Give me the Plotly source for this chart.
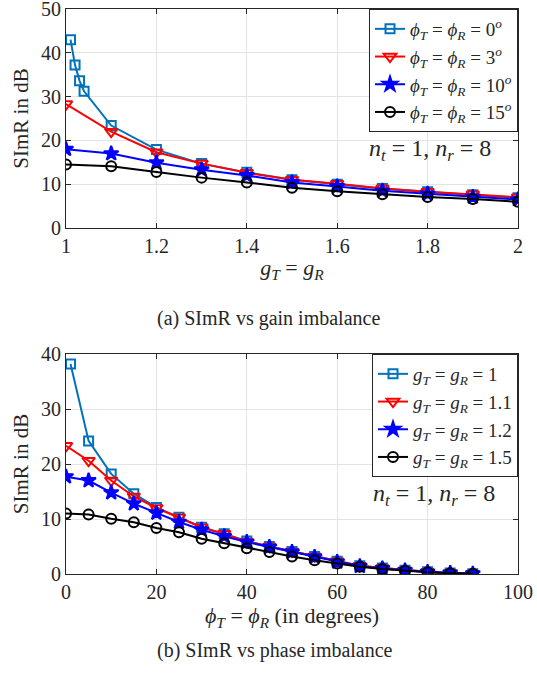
import plotly.graph_objects as go

# ---------- data: top panel (gain imbalance) ----------
g_sq = [1.01, 1.02, 1.03, 1.04, 1.1, 1.2, 1.3, 1.4, 1.5, 1.6, 1.7, 1.8, 1.9, 2.0]
simr_phi0 = [43.0, 37.2, 33.6, 31.2, 23.4, 17.9, 14.7, 12.7, 11.0, 10.0, 9.0, 8.3, 7.6, 6.9]
g_vals = [1.0, 1.1, 1.2, 1.3, 1.4, 1.5, 1.6, 1.7, 1.8, 1.9, 2.0]
simr_phi3 = [28.3, 22.0, 17.3, 14.7, 12.6, 11.0, 10.1, 9.0, 8.3, 7.7, 7.0]
simr_phi10 = [18.0, 17.0, 14.9, 13.3, 12.0, 10.4, 9.5, 8.5, 7.8, 7.1, 6.5]
simr_phi15 = [14.5, 14.1, 12.8, 11.5, 10.4, 9.2, 8.4, 7.7, 7.1, 6.6, 6.0]

# ---------- data: bottom panel (phase imbalance) ----------
phi_sq = [1, 5, 10, 15, 20, 25, 30, 35, 40, 45, 50, 55, 60, 65, 70, 75, 80, 85, 90]
phi_vals = [0, 5, 10, 15, 20, 25, 30, 35, 40, 45, 50, 55, 60, 65, 70, 75, 80, 85, 90]
simr_g1 = [38.2, 24.2, 18.2, 14.6, 12.1, 10.3, 8.5, 7.3, 6.0, 5.0, 4.1, 3.2, 2.3, 1.5, 1.1, 0.7, 0.4, 0.2, 0.05]
simr_g11 = [23.3, 20.6, 17.0, 14.1, 12.0, 10.3, 8.5, 7.3, 5.9, 5.0, 4.1, 3.2, 2.3, 1.5, 1.1, 0.7, 0.4, 0.2, 0.05]
simr_g12 = [17.7, 17.0, 14.8, 12.8, 11.1, 9.45, 8.05, 6.85, 5.8, 4.9, 4.0, 3.1, 2.2, 1.4, 1.0, 0.65, 0.35, 0.2, 0.05]
simr_g15 = [11.0, 10.8, 10.05, 9.4, 8.35, 7.6, 6.4, 5.6, 4.7, 4.0, 3.2, 2.5, 1.9, 1.3, 0.9, 0.6, 0.3, 0.15, 0.05]

top_names = ["<i>ϕ<sub>T</sub></i> = <i>ϕ<sub>R</sub></i> = 0<sup><i>o</i></sup>",
             "<i>ϕ<sub>T</sub></i> = <i>ϕ<sub>R</sub></i> = 3<sup><i>o</i></sup>",
             "<i>ϕ<sub>T</sub></i> = <i>ϕ<sub>R</sub></i> = 10<sup><i>o</i></sup>",
             "<i>ϕ<sub>T</sub></i> = <i>ϕ<sub>R</sub></i> = 15<sup><i>o</i></sup>"]
bot_names = ["<i>g<sub>T</sub></i> = <i>g<sub>R</sub></i> = 1",
             "<i>g<sub>T</sub></i> = <i>g<sub>R</sub></i> = 1.1",
             "<i>g<sub>T</sub></i> = <i>g<sub>R</sub></i> = 1.2",
             "<i>g<sub>T</sub></i> = <i>g<sub>R</sub></i> = 1.5"]

FONT = "Liberation Serif, Times New Roman, serif"
TXT = "#262626"
c_sq = "#0072BD"
c_tri = "#FF0000"
c_star = "#0000FF"
c_circ = "#000000"

styles = [
    dict(color=c_sq, symbol="square-open", size=9),
    dict(color=c_tri, symbol="triangle-down-open", size=11),
    dict(color=c_star, symbol="star", size=11),
    dict(color=c_circ, symbol="circle-open", size=10),
]

fig = go.Figure()

top_x = [g_sq, g_vals, g_vals, g_vals]
top_y = [simr_phi0, simr_phi3, simr_phi10, simr_phi15]
for xs, ys, nm, st in zip(top_x, top_y, top_names, styles):
    fig.add_trace(go.Scatter(
        x=xs, y=ys, name=nm, mode="lines+markers",
        line=dict(color=st["color"], width=2),
        marker=dict(symbol=st["symbol"], size=st["size"], color=st["color"],
                    line=dict(color=st["color"], width=2)),
        xaxis="x", yaxis="y", legend="legend"))

bot_x = [phi_sq, phi_vals, phi_vals, phi_vals]
bot_y = [simr_g1, simr_g11, simr_g12, simr_g15]
for xs, ys, nm, st in zip(bot_x, bot_y, bot_names, styles):
    fig.add_trace(go.Scatter(
        x=xs, y=ys, name=nm, mode="lines+markers",
        line=dict(color=st["color"], width=2),
        marker=dict(symbol=st["symbol"], size=st["size"], color=st["color"],
                    line=dict(color=st["color"], width=2)),
        xaxis="x2", yaxis="y2", legend="legend2"))

W, H = 537, 677
def px(v):
    return v / W
def py(v):
    return 1 - v / H

axis_common = dict(
    showline=True, linecolor=TXT, linewidth=1, mirror="ticks",
    ticks="inside", ticklen=5, tickcolor=TXT,
    showgrid=True, gridcolor="#E3E3E3", gridwidth=1,
    zeroline=False, automargin=False, ticklabeloverflow="allow",
    tickfont=dict(family=FONT, size=20, color=TXT),
)

legend_common = dict(
    xanchor="right", yanchor="top",
    bgcolor="white", bordercolor=TXT, borderwidth=1,
    font=dict(family=FONT, size=19, color=TXT),
    itemwidth=30, tracegroupgap=0,
)

fig.update_layout(
    width=W, height=H,
    margin=dict(l=0, r=0, t=0, b=0),
    paper_bgcolor="white", plot_bgcolor="white",
    font=dict(family=FONT, color=TXT),
    xaxis=dict(domain=[px(66), px(518)], range=[1, 2], dtick=0.2, anchor="y",
               title=dict(text="<i>g<sub>T</sub></i> = <i>g<sub>R</sub></i>",
                          font=dict(family=FONT, size=22), standoff=3),
               **axis_common),
    yaxis=dict(domain=[py(228), py(9)], range=[0, 50], dtick=10, anchor="x",
               title=dict(text="SImR in dB", font=dict(family=FONT, size=21), standoff=6),
               **axis_common),
    xaxis2=dict(domain=[px(66), px(518)], range=[0, 100], dtick=20, anchor="y2",
                title=dict(text="<i>ϕ<sub>T</sub></i> = <i>ϕ<sub>R</sub></i> (in degrees)",
                           font=dict(family=FONT, size=22), standoff=2),
                **axis_common),
    yaxis2=dict(domain=[py(574), py(354)], range=[0, 40], dtick=10, anchor="x2",
                title=dict(text="SImR in dB", font=dict(family=FONT, size=21), standoff=6),
                **axis_common),
    legend=dict(x=px(518), y=py(9), **legend_common),
    legend2=dict(x=px(518), y=py(354), **legend_common),
    showlegend=True,
    annotations=[
        dict(text="<i>n<sub>t</sub></i> = 1, <i>n<sub>r</sub></i> = 8",
             xref="paper", yref="paper", x=px(430), y=py(150),
             xanchor="center", yanchor="middle",
             showarrow=False, font=dict(family=FONT, size=24, color=TXT)),
        dict(text="<i>n<sub>t</sub></i> = 1, <i>n<sub>r</sub></i> = 8",
             xref="paper", yref="paper", x=px(434), y=py(495),
             xanchor="center", yanchor="middle",
             showarrow=False, font=dict(family=FONT, size=24, color=TXT)),
        dict(text="(a) SImR vs gain imbalance",
             xref="paper", yref="paper", x=px(268), y=py(318),
             xanchor="center", showarrow=False,
             font=dict(family=FONT, size=20, color=TXT)),
        dict(text="(b) SImR vs phase imbalance",
             xref="paper", yref="paper", x=px(275), y=py(664),
             xanchor="center", showarrow=False,
             font=dict(family=FONT, size=20, color=TXT)),
    ],
)

fig.write_html("out.html",
               config={"displayModeBar": False},
               post_script="document.body.style.margin='0';document.body.style.padding='0';")
